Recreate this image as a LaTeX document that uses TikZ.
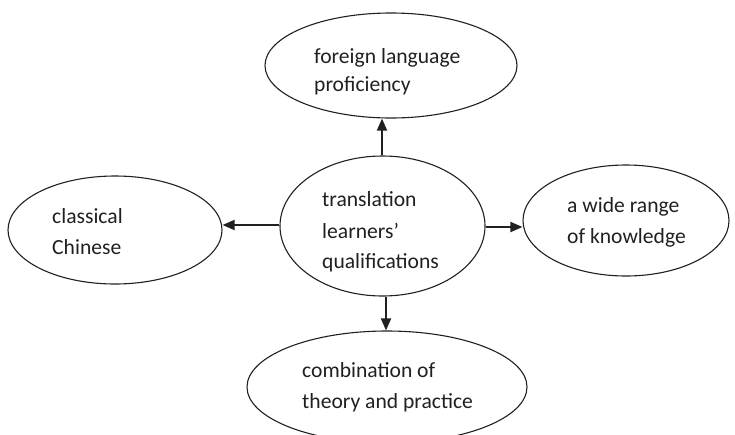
\documentclass[tikz,border=0pt]{standalone}
\usepackage{fontspec}
\setmainfont{Carlito}
\usetikzlibrary{shapes.geometric,arrows.meta}
\definecolor{ink}{HTML}{231F20}
\begin{document}
\begin{tikzpicture}[x=1pt,y=-1pt,
  oval/.style={draw=ink,ellipse,line width=1.1pt,inner sep=0pt},
  lbl/.style={anchor=base west,inner sep=0pt,text=ink,font=\fontsize{21.6}{30}\selectfont},
  conn/.style={draw=ink,line width=1.8pt,-{Triangle[length=12pt,width=10pt]}}]
\useasboundingbox (0,0) rectangle (735,434);
\node[oval,minimum width=252pt,minimum height=105pt] (t) at (391,65.5) {};
\node[oval,minimum width=205pt,minimum height=140pt] (c) at (382.5,226) {};
\node[oval,minimum width=214pt,minimum height=108pt] (l) at (115,230) {};
\node[oval,minimum width=206pt,minimum height=111pt] (r) at (626,220.5) {};
\node[oval,minimum width=280pt,minimum height=112pt] (b) at (387,387) {};
\node[lbl] (t1) at (314,63) {foreign language};
\node[lbl] (t2) at (314,91) {proficiency};
\node[lbl] (c1) at (322,206) {translation};
\node[lbl] (c2) at (322,238) {learners’};
\node[lbl] (c3) at (322,268) {qualifications};
\node[lbl] (l1) at (52,223) {classical};
\node[lbl] (l2) at (52,254) {Chinese};
\node[lbl] (r1) at (567,212) {a wide range};
\node[lbl] (r2) at (567,243) {of knowledge};
\node[lbl] (b1) at (302,377) {combination of};
\node[lbl] (b2) at (302,408) {theory and practice};
\draw[conn] ([xshift=-0.5pt]c.north) -- ([xshift=-0.5pt]c.north |- t.south);
\draw[conn] ([yshift=1pt]c.west) -- ([yshift=1pt]c.west -| l.east);
\draw[conn] ([yshift=-1pt]c.east) -- ([yshift=-1pt]c.east -| r.west);
\draw[conn] ([xshift=3.5pt]c.south) -- ([xshift=3.5pt]c.south |- b.north);
\end{tikzpicture}
\end{document}
